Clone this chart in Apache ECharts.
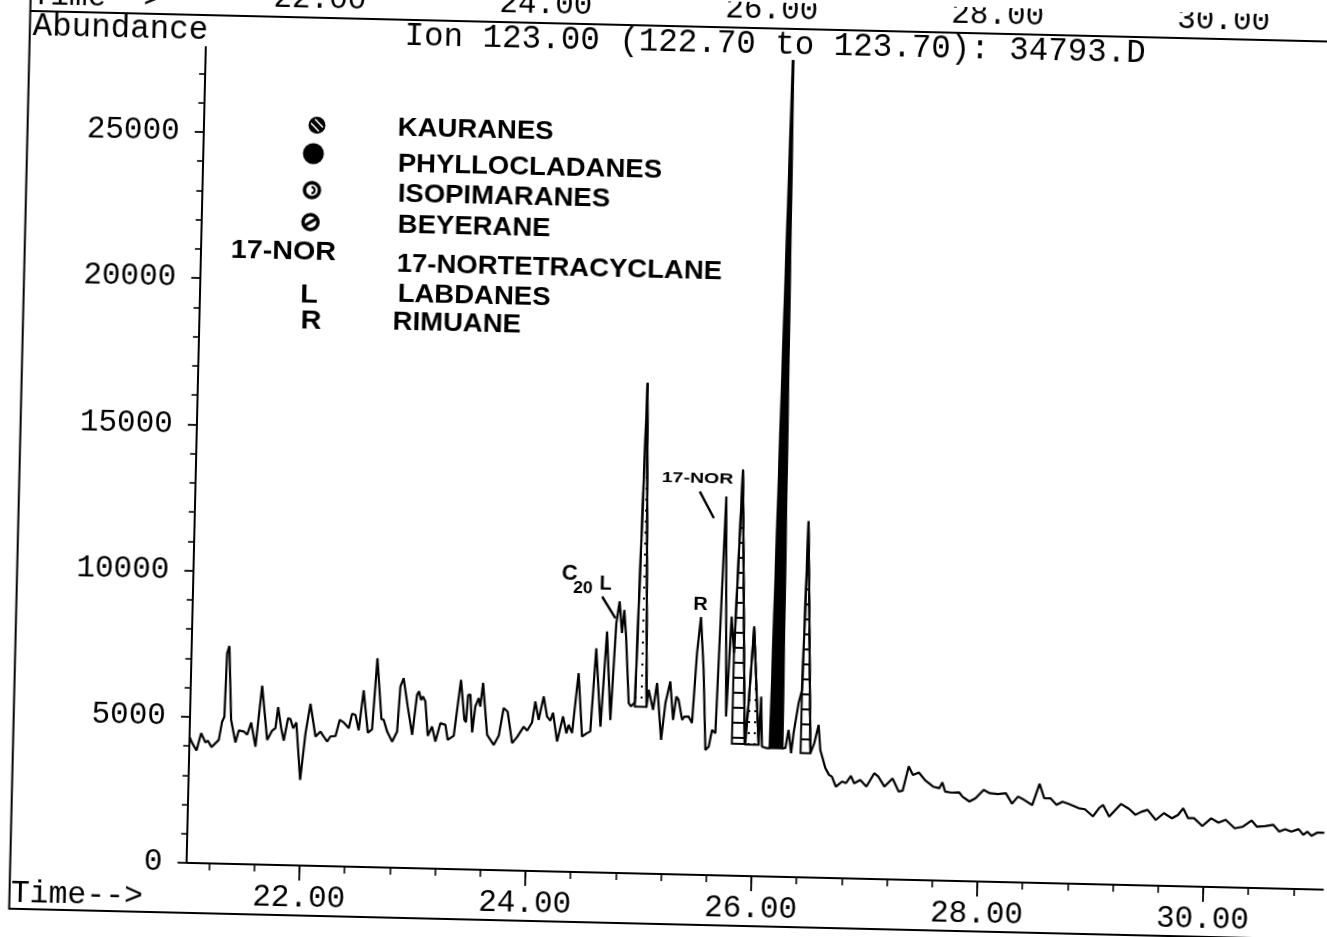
<!DOCTYPE html>
<html>
<head>
<meta charset="utf-8">
<script src="https://cdn.jsdelivr.net/npm/echarts@6/dist/echarts.min.js"></script>
<style>
  html, body { margin: 0; padding: 0; background: #fff; width: 1327px; height: 937px; overflow: hidden; }
  /* the printed page sits slightly skewed on the scanner bed */
  #chart { position: absolute; left: -16.5px; top: 0; width: 1360px; height: 937px;
           transform: rotate(1.35deg); transform-origin: 50% 50%; }
</style>
</head>
<body>
<div id="chart"></div>
<script>
// ---- Extracted ion chromatogram, m/z 123 (retention time in minutes, abundance) ----
const retentionTime = [
  21.00, 21.026, 21.065, 21.103, 21.143, 21.163, 21.197, 21.26, 21.286, 21.305, 21.316, 21.335, 21.365, 21.408,
  21.435, 21.48, 21.51, 21.543, 21.586, 21.633, 21.688, 21.73, 21.759, 21.779, 21.81, 21.835, 21.869, 21.89,
  21.916, 21.943, 21.988, 22.026, 22.064, 22.115, 22.158, 22.188, 22.219, 22.247, 22.292, 22.326, 22.362, 22.408,
  22.434, 22.464, 22.496, 22.532, 22.577, 22.614, 22.647, 22.695, 22.715, 22.748, 22.794, 22.836, 22.856, 22.883,
  22.925, 22.97, 23.005, 23.022, 23.042, 23.059, 23.08, 23.108, 23.144, 23.177, 23.217, 23.262, 23.285, 23.338,
  23.391, 23.429, 23.444, 23.457, 23.477, 23.5, 23.523, 23.551, 23.567, 23.587, 23.633, 23.693, 23.736, 23.774,
  23.81, 23.856, 23.899, 23.955, 23.986, 24.028, 24.053, 24.086, 24.126, 24.16, 24.19, 24.212, 24.253, 24.301,
  24.334, 24.352, 24.384, 24.43, 24.473, 24.516, 24.545, 24.581, 24.634, 24.673, 24.72, 24.753, 24.778, 24.805,
  24.821, 24.842, 24.879, 24.9, 24.934, 24.98, 25.037, 25.053, 25.096, 25.126, 25.173, 25.204, 25.243, 25.275,
  25.299, 25.32, 25.355, 25.374, 25.412, 25.443, 25.473, 25.501, 25.535, 25.567, 25.596, 25.622, 25.652, 25.70,
  25.743, 25.772, 25.80, 25.842, 25.913, 25.92, 25.94, 25.974, 26.014, 26.037, 26.05, 26.067, 26.111, 26.137,
  26.20, 26.247, 26.274, 26.299, 26.326, 26.344, 26.382, 26.41, 26.433, 26.497, 26.529, 26.564, 26.584, 26.61,
  26.632, 26.666, 26.692, 26.729, 26.783, 26.818, 26.86, 26.89, 26.944, 26.999, 27.066, 27.102, 27.159, 27.229,
  27.286, 27.321, 27.37, 27.408, 27.461, 27.516, 27.589, 27.644, 27.671, 27.697, 27.752, 27.823, 27.852, 27.914,
  27.968, 28.038, 28.092, 28.164, 28.235, 28.291, 28.343, 28.398, 28.47, 28.531, 28.576, 28.63, 28.685, 28.738,
  28.792, 28.882, 28.937, 29.01, 29.062, 29.097, 29.153, 29.257, 29.33, 29.385, 29.439, 29.492, 29.566, 29.637,
  29.709, 29.762, 29.807, 29.852, 29.905, 29.979, 30.056, 30.121, 30.185, 30.266, 30.338, 30.414, 30.463, 30.534,
  30.606, 30.661, 30.713, 30.768, 30.832, 30.875, 30.911, 30.947, 31.0, 31.06
];
const abundance = [
  4320, 4100, 3850, 4450, 4130, 4200, 3980, 4230, 4860, 5030, 7200, 7450, 4930, 4160,
  4570, 4540, 4430, 4850, 4030, 6120, 4270, 4590, 4680, 5400, 4680, 4260, 5030, 5000,
  4690, 4890, 2930, 4530, 5540, 4420, 4600, 4430, 4260, 4440, 4460, 5010, 4930, 4740,
  5230, 5200, 4670, 6040, 4600, 4720, 7150, 5070, 5050, 4650, 4310, 4660, 6200, 6490,
  5520, 4560, 5930, 6050, 5760, 5880, 5710, 4540, 4860, 4350, 4980, 4930, 4420, 4560,
  6480, 5110, 5040, 5970, 5980, 4690, 5580, 5870, 5580, 6390, 4620, 4280, 4600, 5550,
  5430, 4360, 4570, 4930, 4800, 5080, 5800, 5170, 5980, 5290, 5160, 5430, 4450, 5310,
  4740, 5030, 4750, 6800, 4640, 4760, 4820, 7670, 4990, 8250, 5230, 8540, 9290, 8210,
  9000, 8100, 5820, 5710, 5850, 16780, 5700, 6290, 5610, 6530, 4590, 5850, 6590, 5280,
  6080, 5970, 5290, 5400, 5410, 5190, 7580, 8820, 7020, 4280, 4400, 4970, 4860, 12960,
  5440, 8860, 7610, 13890, 4515, 4520, 5910, 8540, 5920, 4500, 6150, 4440, 4390, 4395,
  29000, 4400, 4405, 5030, 4240, 4930, 5950, 6410, 12180, 4255, 4600, 5230, 4370, 4040,
  3760, 3530, 3470, 3130, 3310, 3260, 3510, 3260, 3380, 3160, 3620, 3510, 3170, 3460,
  3010, 3050, 3880, 3590, 3680, 3430, 3210, 3160, 3360, 3050, 3020, 3030, 2890, 2730,
  2850, 3140, 3030, 3010, 3040, 2690, 2940, 2830, 2660, 3390, 2900, 2910, 2690, 2800,
  2730, 2590, 2560, 2320, 2610, 2720, 2330, 2770, 2600, 2410, 2520, 2590, 2250, 2490,
  2320, 2440, 2670, 2340, 2340, 2080, 2350, 2210, 2310, 2030, 2090, 2310, 2100, 2130,
  2180, 1950, 2040, 1960, 2050, 1860, 1970, 1830, 1950, 1950
];

// ---- Shaded (identified) peaks: integration window and baseline ----
const fillFrom = [24.934, 25.80, 25.92, 26.137, 26.41];
const fillTo   = [25.037, 25.913, 26.037, 26.247, 26.497];
const fillBase = [5700, 4515, 4500, 4395, 4255];
const fillKind = ['dots', 'ladder', 'dots', 'solid', 'ladder'];

// ---- Axes ----
const timeMin = 21.0, timeMax = 31.06;
const abundanceMax = 27900;
const timeLabels = [22, 24, 26, 28, 30];
const timeMinorTicks = [21.2, 21.6, 22.0, 22.4, 22.8, 23.2, 23.6, 24.0, 24.4, 24.8, 25.2, 25.6, 26.0,
                        26.4, 26.8, 27.2, 27.6, 28.0, 28.4, 28.8, 29.2, 29.6, 30.0, 30.4, 30.8];
const abundanceLabels = [0, 5000, 10000, 15000, 20000, 25000];
const abundanceMinorTicks = [1000, 2000, 3000, 4000, 6000, 7000, 8000, 9000, 11000, 12000, 13000, 14000,
                             16000, 17000, 18000, 19000, 21000, 22000, 23000, 24000, 26000, 27000];

// ---- Compound class key ----
const keyCodes = ['', '', '', '', '17-NOR', 'L', 'R'];
const keyNames = ['KAURANES', 'PHYLLOCLADANES', 'ISOPIMARANES', 'BEYERANE', '17-NORTETRACYCLANE', 'LABDANES', 'RIMUANE'];

// ---- Hand-written peak notes: [time, abundance] anchors ----
const noteText = ['C', '20', 'L', 'R', '17-NOR'];
const notePos = [[24.33, 10180], [24.45, 9700], [24.65, 9860], [25.494, 9234], [25.441, 13540]];
const leaderFrom = [[24.622, 9439], [25.464, 13107]];
const leaderTo   = [[24.744, 8711], [25.594, 12209]];

const MONO = "'Liberation Mono', 'DejaVu Sans Mono', monospace";
const SANS = "'Liberation Sans', Arial, sans-serif";

function makePattern(kind) {
  const c = document.createElement('canvas');
  const g = c.getContext('2d');
  if (kind === 'ladder') {
    c.width = 16; c.height = 15;
    g.fillStyle = '#fff'; g.fillRect(0, 0, 16, 15);
    g.fillStyle = '#000'; g.fillRect(0, 0, 16, 2);
  } else {
    c.width = 6; c.height = 11;
    g.fillStyle = '#fff'; g.fillRect(0, 0, 6, 11);
    g.fillStyle = '#000'; g.fillRect(2, 4, 2, 2);
  }
  return { image: c, repeat: 'repeat' };
}
const fills = { ladder: makePattern('ladder'), dots: makePattern('dots'), solid: '#000' };

function traceAt(t) {
  for (let k = 1; k < retentionTime.length; k++) {
    if (retentionTime[k] >= t) {
      const t0 = retentionTime[k - 1], t1 = retentionTime[k];
      const f = (t - t0) / (t1 - t0);
      return abundance[k - 1] + f * (abundance[k] - abundance[k - 1]);
    }
  }
  return abundance[abundance.length - 1];
}

const chart = echarts.init(document.getElementById('chart'), null, { renderer: 'canvas' });

const axisLineStyle = { color: '#000', width: 2 };
const tickLabel = { color: '#000', fontFamily: MONO, fontSize: 31 };

chart.setOption({
  animation: false,
  backgroundColor: '#fff',
  grid: { left: 211.9, right: 11.3, top: 58.0, bottom: 62.9, containLabel: false },
  xAxis: [
    {
      type: 'value', min: timeMin, max: timeMax, position: 'bottom',
      axisLine: { show: true, onZero: false, lineStyle: axisLineStyle },
      axisTick: { show: true, length: 7, customValues: timeMinorTicks, lineStyle: { color: '#000', width: 1.6 } },
      axisLabel: { show: false },
      splitLine: { show: false }
    },
    {
      type: 'value', min: timeMin, max: timeMax, position: 'bottom',
      axisLine: { show: false, onZero: false },
      axisTick: { show: true, length: 15, customValues: timeLabels, lineStyle: { color: '#000', width: 1.8 } },
      axisLabel: Object.assign({ show: true, margin: 17, customValues: timeLabels,
                                 formatter: v => v.toFixed(2) }, tickLabel),
      splitLine: { show: false }
    }
  ],
  yAxis: [
    {
      type: 'value', min: 0, max: abundanceMax, position: 'left',
      axisLine: { show: true, onZero: false, lineStyle: axisLineStyle },
      axisTick: { show: true, length: 9, customValues: abundanceLabels, lineStyle: { color: '#000', width: 1.8 } },
      axisLabel: Object.assign({ show: true, margin: 24, customValues: abundanceLabels,
                                 formatter: v => String(v) }, tickLabel),
      splitLine: { show: false }
    },
    {
      type: 'value', min: 0, max: abundanceMax, position: 'left',
      axisLine: { show: false, onZero: false },
      axisTick: { show: true, length: 6, customValues: abundanceMinorTicks, lineStyle: { color: '#000', width: 1.6 } },
      axisLabel: { show: false },
      splitLine: { show: false }
    }
  ],
  series: [
    {
      type: 'custom', name: 'identified peaks', xAxisIndex: 0, yAxisIndex: 0, z: 2, clip: true,
      data: fillFrom.map((t, i) => [t, fillBase[i]]),
      renderItem: function (params, api) {
        const i = params.dataIndex;
        const t0 = fillFrom[i], t1 = fillTo[i], base = fillBase[i];
        const pts = [[t0, base], [t0, traceAt(t0)]];
        retentionTime.forEach((t, k) => { if (t > t0 && t < t1) pts.push([t, abundance[k]]); });
        pts.push([t1, traceAt(t1)], [t1, base]);
        const cs = params.coordSys;
        const px = echarts.graphic.clipPointsByRect(pts.map(p => api.coord(p)),
          { x: cs.x, y: cs.y, width: cs.width, height: cs.height });
        return {
          type: 'polygon',
          shape: { points: px },
          style: { fill: fills[fillKind[i]], stroke: '#000', lineWidth: 2 }
        };
      }
    },
    {
      type: 'line', name: 'Ion 123.00', xAxisIndex: 0, yAxisIndex: 0, z: 3,
      data: retentionTime.map((t, i) => [t, abundance[i]]),
      showSymbol: false, symbol: 'none', clip: true,
      lineStyle: { color: '#000', width: 2.2 }
    }
  ]
});

// ---- Page furniture, key and peak notes ----
const toPx = p => chart.convertToPixel({ xAxisIndex: 0, yAxisIndex: 0 }, p);
const xPx = t => chart.convertToPixel({ xAxisIndex: 0 }, t);

const g = [];
// frame of the printout
g.push({ type: 'polyline', shape: { points: [[35.7, -40], [35.7, 924], [1400, 924]] },
         style: { stroke: '#000', lineWidth: 2, fill: null } });
g.push({ type: 'line', shape: { x1: 35.7, y1: 26, x2: 1400, y2: 26 },
         style: { stroke: '#000', lineWidth: 2 } });
// tail of the panel printed above
g.push({ type: 'text', x: 36.9, y: 10.7, style: { text: 'Time-->', font: `31px ${MONO}`, fill: '#000',
         textAlign: 'left', textVerticalAlign: 'middle' } });
timeLabels.forEach(t => g.push({ type: 'text', x: xPx(t), y: 8, style: { text: t.toFixed(2), font: `31px ${MONO}`,
         fill: '#000', textAlign: 'center', textVerticalAlign: 'middle' } }));
// header
g.push({ type: 'text', x: 38.5, y: 41.2, style: { text: 'Abundance', font: `32.5px ${MONO}`, fill: '#000',
         textAlign: 'left', textVerticalAlign: 'middle' } });
g.push({ type: 'text', x: 410.6, y: 42.2, style: { text: 'Ion 123.00 (122.70 to 123.70): 34793.D',
         font: `32.5px ${MONO}`, fill: '#000', textAlign: 'left', textVerticalAlign: 'middle' } });
g.push({ type: 'text', x: 36.9, y: 908.7, style: { text: 'Time-->', font: `31.5px ${MONO}`, fill: '#000',
         textAlign: 'left', textVerticalAlign: 'middle' } });

// key: names
const keyNameX = [405.8, 406.7, 407.4, 408.1, 407.9, 409.7, 405.3];
const keyRowY = [134.9, 171.6, 200.9, 232.6, 270.9, 301.6, 329.2];
keyNames.forEach((name, i) => g.push({ type: 'text', x: keyNameX[i], y: keyRowY[i], scaleX: 1.1,
  style: { text: name, font: `bold 25px ${SANS}`, fill: '#000', textAlign: 'left', textVerticalAlign: 'middle' } }));
// key: letter codes
const keyCodeX = [0, 0, 0, 0, 294.4, 321.0, 323.6];
const keyCodeY = [0, 0, 0, 0, 261.0, 304.4, 330.4];
keyCodes.forEach((code, i) => { if (code) g.push({ type: 'text', x: keyCodeX[i], y: keyCodeY[i], scaleX: 1.15,
  style: { text: code, font: `bold 25px ${SANS}`, fill: '#000', textAlign: 'center', textVerticalAlign: 'middle' } }); });
// key: symbols
const sx = [325.0, 322.1, 321.5, 320.8], sy = [133.5, 162.0, 198.5, 230.5];
g.push({ type: 'circle', shape: { cx: sx[0], cy: sy[0], r: 8.5 }, style: { fill: '#000' } });
g.push({ type: 'line', shape: { x1: sx[0] - 6, y1: sy[0] - 2, x2: sx[0] + 2, y2: sy[0] + 6 }, style: { stroke: '#fff', lineWidth: 1.6 } });
g.push({ type: 'line', shape: { x1: sx[0] - 2, y1: sy[0] - 6, x2: sx[0] + 6, y2: sy[0] + 2 }, style: { stroke: '#fff', lineWidth: 1.6 } });
g.push({ type: 'circle', shape: { cx: sx[1], cy: sy[1], r: 10.5 }, style: { fill: '#000' } });
g.push({ type: 'circle', shape: { cx: sx[2], cy: sy[2], r: 7.5 }, style: { fill: '#fff', stroke: '#000', lineWidth: 3.5 } });
g.push({ type: 'arc', shape: { cx: sx[2] - 0.5, cy: sy[2], r: 3.2, startAngle: -Math.PI / 2, endAngle: Math.PI / 2 },
         style: { stroke: '#000', lineWidth: 2.2, fill: null } });
g.push({ type: 'circle', shape: { cx: sx[3], cy: sy[3], r: 7.5 }, style: { fill: '#fff', stroke: '#000', lineWidth: 3.5 } });
g.push({ type: 'line', shape: { x1: sx[3] - 6.5, y1: sy[3] + 4, x2: sx[3] + 6.5, y2: sy[3] - 4 }, style: { stroke: '#000', lineWidth: 3.2 } });

// hand-written peak notes
const noteFont = [`bold 22px ${SANS}`, `bold 16px ${SANS}`, `bold 20px ${SANS}`, `bold 19px ${SANS}`, `bold 15px ${SANS}`];
const noteScale = [1, 1.1, 1, 1.05, 1.3];
noteText.forEach((txt, i) => {
  const p = toPx(notePos[i]);
  g.push({ type: 'text', x: p[0], y: p[1], scaleX: noteScale[i],
    style: { text: txt, font: noteFont[i], fill: '#000', textAlign: 'center', textVerticalAlign: 'middle' } });
});
leaderFrom.forEach((a, i) => {
  const p = toPx(a), q = toPx(leaderTo[i]);
  g.push({ type: 'line', shape: { x1: p[0], y1: p[1], x2: q[0], y2: q[1] }, style: { stroke: '#000', lineWidth: 2.4 } });
});

chart.setOption({ graphic: g.map(e => Object.assign({ z: 10, silent: true }, e)) });
</script>
</body>
</html>
